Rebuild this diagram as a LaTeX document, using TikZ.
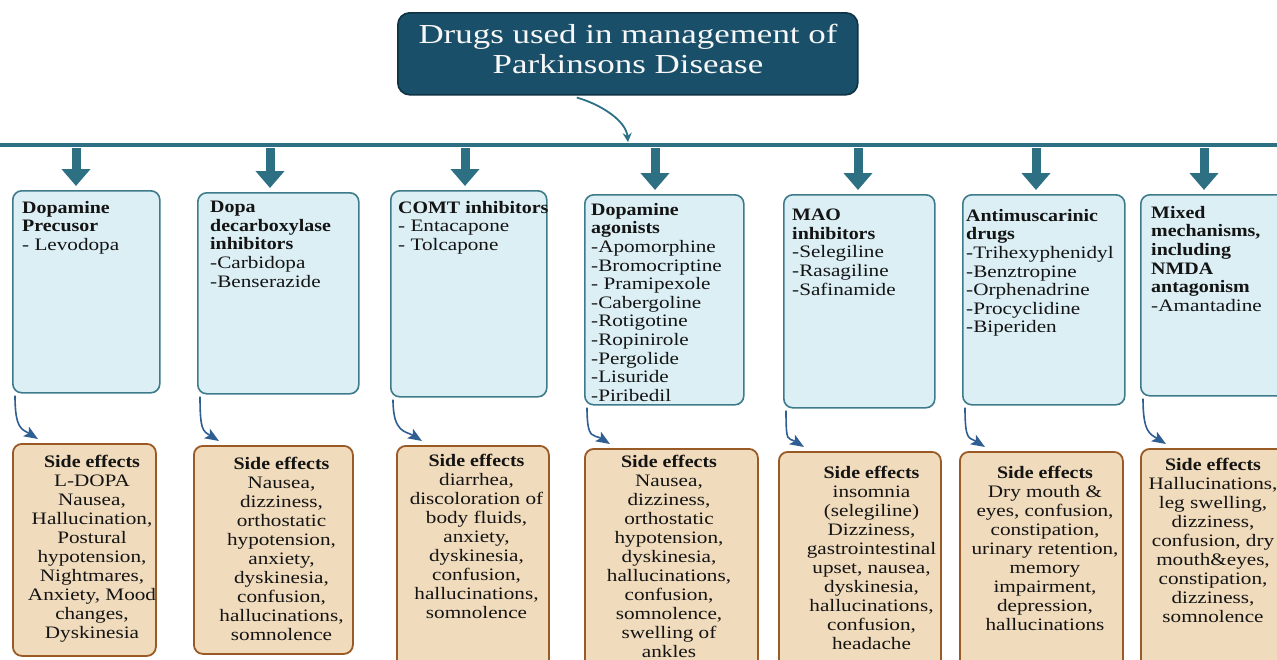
\documentclass[tikz,border=0pt]{standalone}
\usepackage{fontspec}
\setmainfont{Liberation Serif}[FakeStretch=1.21, BoldFeatures={FakeStretch=1.14}]
\newfontfamily\titlefont{Liberation Serif}[FakeStretch=1.27]
\usetikzlibrary{arrows.meta,calc}
\definecolor{titlefill}{HTML}{1A4F69}
\definecolor{titledraw}{HTML}{0E3244}
\definecolor{tealline}{HTML}{2D6F83}
\definecolor{bluefill}{HTML}{DBEFF5}
\definecolor{bluedraw}{HTML}{3D7B8B}
\definecolor{tanfill}{HTML}{F0DBBC}
\definecolor{tandraw}{HTML}{9A5A25}
\definecolor{curvecol}{HTML}{2E5E92}
\definecolor{txt}{HTML}{141414}
\tikzset{
  titlebox/.style={draw=titledraw, fill=titlefill, line width=1.6pt, rounded corners=12pt, anchor=north west, inner sep=0},
  drugbox/.style={draw=bluedraw, fill=bluefill, line width=1.6pt, rounded corners=9pt, anchor=north west, inner sep=0},
  sidebox/.style={draw=tandraw, fill=tanfill, line width=1.8pt, rounded corners=9pt, anchor=north west, inner sep=0},
  drugtext/.style={anchor=north west, align=left, inner sep=0, text=txt, font=\fontsize{17.5}{18.6}\selectfont},
  sidetext/.style={anchor=north, align=center, inner sep=0, text=txt, font=\fontsize{17.5}{19}\selectfont},
  downarrow/.style={draw=tealline, line width=9pt, -{Triangle[width=28pt,length=17pt]}},
  sidearrow/.style={draw=curvecol, line width=1.6pt, -{Stealth[width=11pt,length=14pt,inset=3pt]}},
  mainline/.style={draw=tealline, line width=4.5pt},
  titlearrow/.style={draw=tealline, line width=1.8pt, -{Stealth[width=9pt,length=9pt]}},
}
\begin{document}
\begin{tikzpicture}[x=1pt,y=-1pt]
\useasboundingbox (0,0) rectangle (1277,659);
% title
\node[titlebox, minimum width=460pt, minimum height=82pt] (title) at (397,12) {};
\node[anchor=north, align=center, inner sep=0, text=white!94!gray,
      font=\titlefont\fontsize{27.5}{30}\selectfont] (titletext) at (628,24)
      {Drugs used in management of\\Parkinsons Disease};
% main line
\coordinate (lineL) at (0,145);
\coordinate (lineR) at (1277,145);
\draw[mainline] (lineL) -- (lineR);
\coordinate (tarr) at (628,142);
\draw[titlearrow] ($(title.south)+(-51,2)$) .. controls +(22,6) and +(-2,-22) .. (tarr);
% drug boxes
\node[drugbox, minimum width=147pt, minimum height=202pt] (d1) at (12,190) {};
\node[drugbox, minimum width=161pt, minimum height=201pt] (d2) at (197,192) {};
\node[drugbox, minimum width=156pt, minimum height=206pt] (d3) at (390,190) {};
\node[drugbox, minimum width=159pt, minimum height=210pt] (d4) at (584,194) {};
\node[drugbox, minimum width=151pt, minimum height=213pt] (d5) at (783,194) {};
\node[drugbox, minimum width=162pt, minimum height=210pt] (d6) at (962,194) {};
\node[drugbox, minimum width=150pt, minimum height=201pt] (d7) at (1140,194) {};
% drug texts
\node[drugtext] (dt1) at (22,201) {\textbf{Dopamine}\\\textbf{Precusor}\\- Levodopa};
\node[drugtext] (dt2) at (210,201) {\textbf{Dopa}\\\textbf{decarboxylase}\\\textbf{inhibitors}\\-Carbidopa\\-Benserazide};
\node[drugtext] (dt3) at (398,201) {\textbf{COMT inhibitors}\\- Entacapone\\- Tolcapone};
\node[drugtext] (dt4) at (591,203) {\textbf{Dopamine}\\\textbf{agonists}\\-Apomorphine\\-Bromocriptine\\- Pramipexole\\-Cabergoline\\-Rotigotine\\-Ropinirole\\-Pergolide\\-Lisuride\\-Piribedil};
\node[drugtext] (dt5) at (792,209) {\textbf{MAO}\\\textbf{inhibitors}\\-Selegiline\\-Rasagiline\\-Safinamide};
\node[drugtext] (dt6) at (966,209) {\textbf{Antimuscarinic}\\\textbf{drugs}\\-Trihexyphenidyl\\-Benztropine\\-Orphenadrine\\-Procyclidine\\-Biperiden};
\node[drugtext] (dt7) at (1151,206) {\textbf{Mixed}\\\textbf{mechanisms,}\\\textbf{including}\\\textbf{NMDA}\\\textbf{antagonism}\\-Amantadine};
% down arrows
\foreach \i/\x in {1/76,2/270,3/465,4/655,5/858,6/1036,7/1204}{
  \coordinate (h\i) at (\x,148);
  \draw[downarrow, shorten >=4pt] (h\i) -- (h\i |- d\i.north);
}
% side boxes
\node[sidebox, minimum width=143pt, minimum height=212pt] (s1) at (12,443) {};
\node[sidebox, minimum width=159pt, minimum height=208pt] (s2) at (193,445) {};
\node[sidebox, minimum width=152pt, minimum height=225pt] (s3) at (396,445) {};
\node[sidebox, minimum width=173pt, minimum height=225pt] (s4) at (584,448) {};
\node[sidebox, minimum width=162pt, minimum height=225pt] (s5) at (778,451) {};
\node[sidebox, minimum width=163pt, minimum height=225pt] (s6) at (959,451) {};
\node[sidebox, minimum width=150pt, minimum height=225pt] (s7) at (1140,448) {};
% side texts
\node[sidetext] (st1) at (92,455) {\textbf{Side effects}\\L-DOPA\\Nausea,\\Hallucination,\\Postural\\hypotension,\\Nightmares,\\Anxiety, Mood\\changes,\\Dyskinesia};
\node[sidetext] (st2) at (281.5,457) {\textbf{Side effects}\\Nausea,\\dizziness,\\orthostatic\\hypotension,\\anxiety,\\dyskinesia,\\confusion,\\hallucinations,\\somnolence};
\node[sidetext] (st3) at (476.5,454) {\textbf{Side effects}\\diarrhea,\\discoloration of\\body fluids,\\anxiety,\\dyskinesia,\\confusion,\\hallucinations,\\somnolence};
\node[sidetext] (st4) at (669,455) {\textbf{Side effects}\\Nausea,\\dizziness,\\orthostatic\\hypotension,\\dyskinesia,\\hallucinations,\\confusion,\\somnolence,\\swelling of\\ankles};
\node[sidetext] (st5) at (871.5,466) {\textbf{Side effects}\\insomnia\\(selegiline)\\Dizziness,\\gastrointestinal\\upset, nausea,\\dyskinesia,\\hallucinations,\\confusion,\\headache};
\node[sidetext] (st6) at (1045,466) {\textbf{Side effects}\\Dry mouth \&\\eyes, confusion,\\constipation,\\urinary retention,\\memory\\impairment,\\depression,\\hallucinations};
\node[sidetext] (st7) at (1213,458) {\textbf{Side effects}\\Hallucinations,\\leg swelling,\\dizziness,\\confusion, dry\\mouth\&eyes,\\constipation,\\dizziness,\\somnolence};
% curved side arrows
\foreach \i in {1,...,7}{
  \draw[sidearrow] ($(d\i.south west)+(3,2)$) .. controls +(0,34) and +(-16,-10) .. ($(s\i.north west)+(26,-4)$);
}
\end{tikzpicture}
\end{document}
